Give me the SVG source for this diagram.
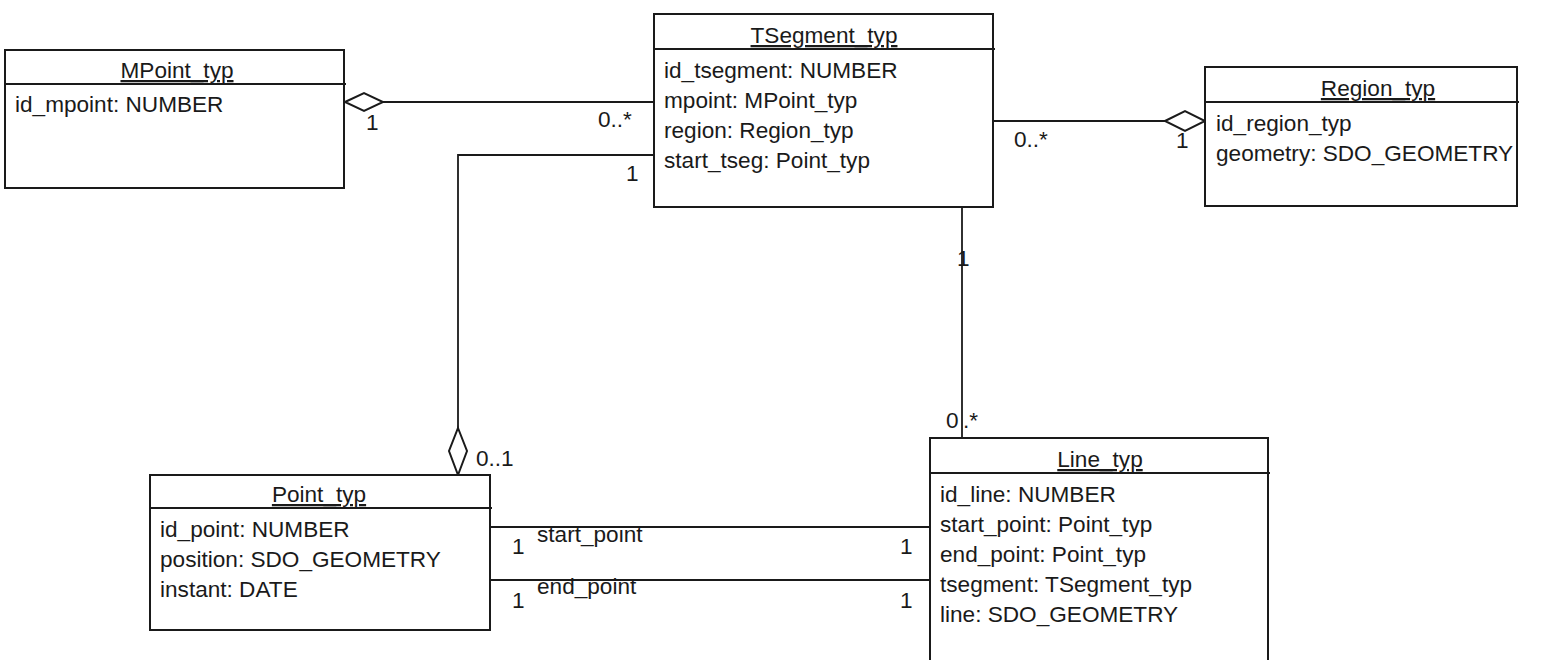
<svg xmlns="http://www.w3.org/2000/svg" width="1550" height="660" viewBox="0 0 1550 660">
<style>
.box{fill:#fff;stroke:#1a1a1a;stroke-width:2}
.sep{stroke:#1a1a1a;stroke-width:2}
.t{font-family:"Liberation Sans",Arial,sans-serif;font-size:22.6px;fill:#1a1a1a}
.ttl{text-decoration:underline;text-anchor:middle}
.c{stroke:#1a1a1a;stroke-width:1.8;fill:none}
.dia{fill:#fff;stroke:#1a1a1a;stroke-width:2}
</style>
<rect width="1550" height="660" fill="#fff"/>
<g id="connectors">
<line class="c" x1="383" y1="102" x2="654" y2="102"/>
<polygon class="dia" points="345,102 364,93 383,102 364,111"/>
<polyline class="c" points="654,155 458,155 458,428"/>
<polygon class="dia" points="458,428 467,451 458,475 449,451"/>
<line class="c" x1="993" y1="121" x2="1165" y2="121"/>
<polygon class="dia" points="1165,121 1185,111 1205,121 1185,131"/>
<line class="c" x1="962" y1="207" x2="962" y2="438"/>
<line class="c" x1="490" y1="527" x2="930" y2="527"/>
<line class="c" x1="490" y1="580" x2="930" y2="580"/>
<text class="t" x="366" y="130">1</text>
<text class="t" x="598" y="127">0..*</text>
<text class="t" x="626" y="181">1</text>
<text class="t" x="476" y="466">0..1</text>
<text class="t" x="1014" y="147">0..*</text>
<text class="t" x="1176" y="148">1</text>
<text class="t" x="957" y="266">1</text>
<text class="t" x="946" y="428">0</text>
<text class="t" x="963" y="428">.*</text>
<text class="t" x="512" y="554">1</text>
<text class="t" x="537" y="542">start_point</text>
<text class="t" x="900" y="554">1</text>
<text class="t" x="512" y="608">1</text>
<text class="t" x="537" y="594">end_point</text>
<text class="t" x="900" y="608">1</text>
</g>
<g id="MPoint_typ">
<rect class="box" x="5" y="50" width="339" height="138"/>
<line class="sep" x1="5" y1="84" x2="346" y2="84"/>
<text class="t ttl" x="177" y="78">MPoint_typ</text>
<text class="t" x="15" y="112">id_mpoint: NUMBER</text>
</g>
<g id="TSegment_typ">
<rect class="box" x="654" y="14" width="339" height="193"/>
<line class="sep" x1="654" y1="49" x2="995" y2="49"/>
<text class="t ttl" x="824" y="43">TSegment_typ</text>
<text class="t" x="664" y="78">id_tsegment: NUMBER</text>
<text class="t" x="664" y="108">mpoint: MPoint_typ</text>
<text class="t" x="664" y="138">region: Region_typ</text>
<text class="t" x="664" y="168">start_tseg: Point_typ</text>
</g>
<g id="Region_typ">
<rect class="box" x="1205" y="67" width="312" height="139"/>
<line class="sep" x1="1205" y1="102" x2="1519" y2="102"/>
<text class="t ttl" x="1378" y="96">Region_typ</text>
<text class="t" x="1216" y="131">id_region_typ</text>
<text class="t" x="1216" y="161">geometry: SDO_GEOMETRY</text>
</g>
<g id="Point_typ">
<rect class="box" x="150" y="475" width="340" height="155"/>
<line class="sep" x1="150" y1="508" x2="492" y2="508"/>
<text class="t ttl" x="319" y="502">Point_typ</text>
<text class="t" x="160" y="537">id_point: NUMBER</text>
<text class="t" x="160" y="567">position: SDO_GEOMETRY</text>
<text class="t" x="160" y="597">instant: DATE</text>
</g>
<g id="Line_typ">
<rect class="box" x="930" y="438" width="338" height="240"/>
<line class="sep" x1="930" y1="473" x2="1270" y2="473"/>
<text class="t ttl" x="1100" y="467">Line_typ</text>
<text class="t" x="940" y="502">id_line: NUMBER</text>
<text class="t" x="940" y="532">start_point: Point_typ</text>
<text class="t" x="940" y="562">end_point: Point_typ</text>
<text class="t" x="940" y="592">tsegment: TSegment_typ</text>
<text class="t" x="940" y="622">line: SDO_GEOMETRY</text>
</g>
</svg>
